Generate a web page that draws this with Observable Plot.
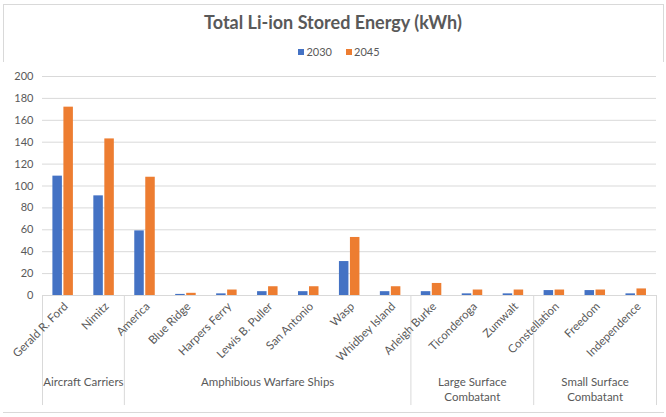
<!DOCTYPE html>
<html><head><meta charset="utf-8">
<script src="https://cdn.jsdelivr.net/npm/d3@7"></script>
<script src="https://cdn.jsdelivr.net/npm/@observablehq/plot@0.6"></script>
<style>
body{margin:0;background:#fff;font-family:Lato,sans-serif;}
#frame{position:absolute;left:3px;top:4px;width:661px;height:409px;border:1px solid #d9d9d9;box-sizing:border-box;}
#title{position:absolute;left:0;top:12px;width:666px;text-align:center;font-weight:bold;font-size:18px;line-height:21px;color:#595959;}
#legend{position:absolute;left:6px;top:45px;width:666px;text-align:center;font-size:11px;line-height:14px;color:#595959;}
#legend span.sw{display:inline-block;width:6px;height:6px;margin-right:2px;vertical-align:1px;}
#legend span.item{margin:0 7px;}
#chart{position:absolute;left:0;top:62px;}
</style></head>
<body>
<div id="frame"></div>
<div id="title"></div>
<div id="legend"></div>
<div id="chart"></div>
<script>
const categories = ["Gerald R. Ford","Nimitz","America","Blue Ridge","Harpers Ferry","Lewis B. Puller","San Antonio","Wasp","Whidbey Island","Arleigh Burke","Ticonderoga","Zumwalt","Constellation","Freedom","Independence"];
const values2030 = [109,91,59,1,1.5,3.5,3.5,31,3.5,3.5,1.5,1.5,4.5,4.5,1.5];
const values2045 = [172,143,108,2,5,8,8,53,8,11,5,5,5,5,6];
const groups = ["Aircraft Carriers","Amphibious Warfare Ships","Large Surface\nCombatant","Small Surface\nCombatant"];
const groupSizes = [2,7,3,3];
const seriesNames = ["2030","2045"];
const seriesColors = ["#4472C4","#ED7D31"];
const yTicks = [0,20,40,60,80,100,120,140,160,180,200];
const titleText = "Total Li-ion Stored Energy (kWh)";

document.getElementById("title").textContent = titleText;
document.getElementById("legend").innerHTML = seriesNames.map((s,i)=>
  `<span class="item"><span class="sw" style="background:${seriesColors[i]}"></span>${s}</span>`).join("");

const table = categories.map((c,i)=>({cat:c, v2030:values2030[i], v2045:values2045[i]}));

// group boundaries and label anchors
let starts = [], idx = 0;
const groupInfo = groups.map((g,k)=>{
  const n = groupSizes[k];
  const s = idx; idx += n;
  starts.push(categories[s]);
  return {label:g, mid: categories[s + Math.floor(n/2) - (n%2===0?1:0)], even: n%2===0};
});

const W = 666, H = 350, mL = 42, mR = 10, mT = 14, mB = 117;
const step = (W - mL - mR) / categories.length;
const gray = "#595959", grid = "#d9d9d9";

const chart = Plot.plot({
  width: W, height: H,
  marginLeft: mL, marginRight: mR, marginTop: mT, marginBottom: mB,
  style: {fontFamily: "Lato, sans-serif", color: gray, background: "white", overflow: "visible"},
  x: {domain: categories, padding: 0, round: false, axis: null},
  y: {domain: [0,200], axis: null},
  marks: [
    Plot.ruleY(yTicks, {stroke: grid, strokeWidth: 1}),
    Plot.barY(table, {x: "cat", y: "v2030", fill: seriesColors[0], insetLeft: 10.4, insetRight: step - 19.9}),
    Plot.barY(table, {x: "cat", y: "v2045", fill: seriesColors[1], insetLeft: 21.4, insetRight: step - 30.9}),
    Plot.ruleX(starts, {x: d=>d, dx: -step/2, y1: 0, y2: -100.5, stroke: grid}),
    Plot.ruleX([categories[categories.length-1]], {x: d=>d, dx: step/2, y1: 0, y2: -100.5, stroke: grid}),
    Plot.axisY({ticks: yTicks, tickSize: 0, tickPadding: 9, fontSize: 11, tickFormat: d=>String(d), fill: gray}),
    Plot.axisX({tickSize: 0, tickPadding: 9, tickRotate: -45, fontSize: 11.5, fill: gray, dx: 3}),
    Plot.text(groupInfo.filter(d=>d.even), {x: "mid", y: -74, text: "label", dx: step/2, fontSize: 11.5, fill: gray, lineAnchor: "top", lineHeight: 1.22}),
    Plot.text(groupInfo.filter(d=>!d.even), {x: "mid", y: -74, text: "label", fontSize: 11.5, fill: gray, lineAnchor: "top", lineHeight: 1.22})
  ]
});
document.getElementById("chart").appendChild(chart);
</script>
</body></html>
